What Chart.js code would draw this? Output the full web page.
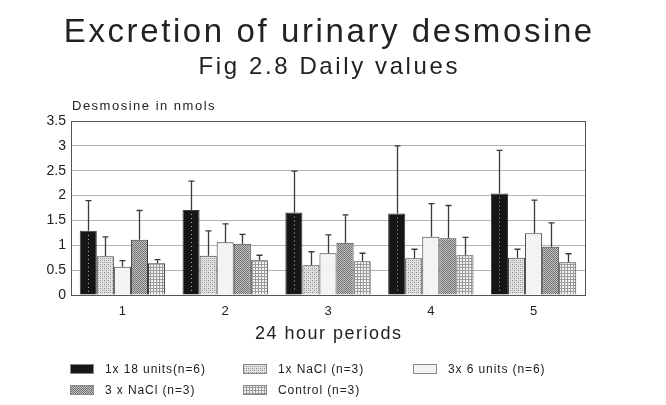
<!DOCTYPE html>
<html>
<head>
<meta charset="utf-8">
<script src="https://cdn.jsdelivr.net/npm/chart.js@4/dist/chart.umd.min.js"></script>
<style>
  html, body { margin: 0; padding: 0; background: #fff; }
  #wrap { width: 666px; height: 405px; }
</style>
</head>
<body>
<div id="wrap"><canvas id="desmosineChart" width="666" height="405"></canvas></div>
<script>
// data
var periods = ['1', '2', '3', '4', '5'];
var yTickLabels = ['0', '0.5', '1', '1.5', '2', '2.5', '3', '3.5'];

var units18 = [1.29, 1.71, 1.66, 1.64, 2.04];
var units18Top = [1.90, 2.29, 2.49, 3.00, 2.91];
var nacl1 = [0.78, 0.79, 0.60, 0.74, 0.75];
var nacl1Top = [1.17, 1.29, 0.87, 0.92, 0.92];
var units6 = [0.57, 1.06, 0.84, 1.17, 1.24];
var units6Top = [0.69, 1.43, 1.21, 1.84, 1.91];
var nacl3 = [1.11, 1.03, 1.05, 1.14, 0.97];
var nacl3Top = [1.70, 1.22, 1.61, 1.80, 1.45];
var control = [0.64, 0.70, 0.68, 0.80, 0.66];
var controlTop = [0.71, 0.80, 0.84, 1.16, 0.83];

var seriesLabels = ['1x 18 units(n=6)', '1x NaCl (n=3)', '3x 6 units (n=6)', '3 x NaCl (n=3)', 'Control (n=3)'];
var errorTops = [units18Top, nacl1Top, units6Top, nacl3Top, controlTop];

var titleText = 'Excretion of urinary desmosine';
var subtitleText = 'Fig 2.8 Daily values';
var yAxisText = 'Desmosine in nmols';
var xAxisText = '24 hour periods';

var FONT = "'Liberation Sans', Arial, sans-serif";
var INK = '#222';

function makePattern(size, bg, draw) {
    var c = document.createElement('canvas');
    c.width = size;
    c.height = size;
    var g = c.getContext('2d');
    g.fillStyle = bg;
    g.fillRect(0, 0, size, size);
    draw(g);
    return g.createPattern(c, 'repeat');
}

var fillBlack = '#161616';
var fillLightHatch = makePattern(4, '#e2e2e2', function (g) {
    g.fillStyle = '#8a8a8a';
    g.fillRect(0, 0, 1, 1);
    g.fillRect(2, 2, 1, 1);
    g.fillStyle = '#b5b5b5';
    g.fillRect(2, 0, 1, 1);
    g.fillRect(0, 2, 1, 1);
});
var fillPale = '#f3f3f3';
var fillDarkHatch = makePattern(2, '#c4c4c4', function (g) {
    g.fillStyle = '#707070';
    g.fillRect(0, 0, 1, 1);
    g.fillRect(1, 1, 1, 1);
});
var fillGrid = makePattern(3, '#f4f4f4', function (g) {
    g.fillStyle = '#9a9a9a';
    g.fillRect(0, 0, 3, 1);
    g.fillRect(0, 0, 1, 3);
});
var fills = [fillBlack, fillLightHatch, fillPale, fillDarkHatch, fillGrid];

function spacedText(ctx, text, x, y, font, spacing, align) {
    ctx.font = font;
    ctx.letterSpacing = spacing + 'px';
    ctx.textAlign = align;
    // letterSpacing adds a trailing gap, shift back half of it when centred
    ctx.fillText(text, align === 'center' ? x + spacing / 2 : x, y);
}

var extrasPlugin = {
    id: 'extras',
    beforeDatasetsDraw: function (chart) {
        var a = chart.chartArea;
        var ctx = chart.ctx;
        ctx.save();
        ctx.strokeStyle = '#555';
        ctx.lineWidth = 1;
        ctx.strokeRect(a.left + 0.5, a.top + 0.5, a.right - a.left, a.bottom - a.top);
        ctx.restore();
    },
    afterDatasetsDraw: function (chart) {
        var ctx = chart.ctx;
        var y = chart.scales.y;
        ctx.save();
        // dotted stripe in the black bars, small mark at the foot of the pale bars
        chart.getDatasetMeta(0).data.forEach(function (bar) {
            ctx.strokeStyle = 'rgba(255,255,255,0.7)';
            ctx.lineWidth = 1;
            ctx.setLineDash([1, 3]);
            ctx.beginPath();
            ctx.moveTo(Math.round(bar.x) + 0.5, bar.y + 4);
            ctx.lineTo(Math.round(bar.x) + 0.5, bar.base - 2);
            ctx.stroke();
        });
        ctx.setLineDash([]);
        chart.getDatasetMeta(2).data.forEach(function (bar) {
            ctx.strokeStyle = '#fff';
            ctx.beginPath();
            ctx.moveTo(Math.round(bar.x) + 0.5, bar.base - 5);
            ctx.lineTo(Math.round(bar.x) + 0.5, bar.base - 1);
            ctx.stroke();
        });
        // error bars
        ctx.strokeStyle = '#3a3a3a';
        ctx.lineWidth = 1.3;
        for (var i = 0; i < errorTops.length; i++) {
            var meta = chart.getDatasetMeta(i);
            meta.data.forEach(function (bar, j) {
                var top = y.getPixelForValue(errorTops[i][j]);
                var x = Math.round(bar.x) + 0.5;
                ctx.beginPath();
                ctx.moveTo(x, bar.y);
                ctx.lineTo(x, top);
                ctx.moveTo(x - 3, top);
                ctx.lineTo(x + 3, top);
                ctx.stroke();
            });
        }
        ctx.restore();
    },
    afterDraw: function (chart) {
        var ctx = chart.ctx;
        var a = chart.chartArea;
        var mid = (a.left + a.right) / 2;
        ctx.save();
        ctx.fillStyle = INK;
        ctx.textBaseline = 'alphabetic';
        spacedText(ctx, titleText, mid, 42, '33px ' + FONT, 2.6, 'center');
        spacedText(ctx, subtitleText, mid, 74, '24px ' + FONT, 2.6, 'center');

        ctx.textBaseline = 'middle';
        spacedText(ctx, yAxisText, a.left + 1, a.top - 15, '13px ' + FONT, 1.5, 'left');
        spacedText(ctx, xAxisText, mid, 334, '18px ' + FONT, 1.5, 'center');

        // legend, three columns and two rows like the original
        var cols = [70, 243, 413];
        var rows = [369, 390];
        chart.data.datasets.forEach(function (ds, k) {
            var cx = cols[k % 3];
            var cy = rows[Math.floor(k / 3)];
            ctx.fillStyle = ds.backgroundColor;
            ctx.fillRect(cx, cy - 5, 24, 10);
            ctx.strokeStyle = '#888';
            ctx.lineWidth = 1;
            ctx.strokeRect(cx + 0.5, cy - 4.5, 23, 9);
            ctx.fillStyle = INK;
            spacedText(ctx, ds.label, cx + 35, cy + 1, '12px ' + FONT, 0.9, 'left');
        });
        ctx.restore();
    }
};

var datasets = [units18, nacl1, units6, nacl3, control].map(function (values, k) {
    return {
        label: seriesLabels[k],
        data: values,
        backgroundColor: fills[k],
        borderColor: '#3c3c3c',
        borderWidth: 1,
        barPercentage: 1,
        categoryPercentage: 0.83
    };
});

var desmosineChart = new Chart('desmosineChart', {
    type: 'bar',
    data: {
        labels: periods,
        datasets: datasets
    },
    plugins: [extrasPlugin],
    options: {
        responsive: false,
        animation: false,
        layout: {
            padding: { left: 0, right: 81, top: 121, bottom: 60 }
        },
        plugins: {
            legend: { display: false },
            tooltip: { enabled: false },
            title: { display: false }
        },
        scales: {
            x: {
                grid: { display: false, drawTicks: false },
                border: { display: false },
                ticks: {
                    color: INK,
                    padding: 9,
                    font: { family: FONT, size: 13 }
                },
                afterFit: function (scale) { scale.height = 50; }
            },
            y: {
                min: 0,
                max: 3.5,
                grid: { color: '#b4b4b4', drawTicks: false },
                border: { display: false },
                ticks: {
                    stepSize: 0.5,
                    color: INK,
                    padding: 5,
                    font: { family: FONT, size: 14 },
                    callback: function (value, index) { return yTickLabels[index]; }
                },
                afterFit: function (scale) { scale.width = 71; }
            }
        }
    }
});
</script>
</body>
</html>
